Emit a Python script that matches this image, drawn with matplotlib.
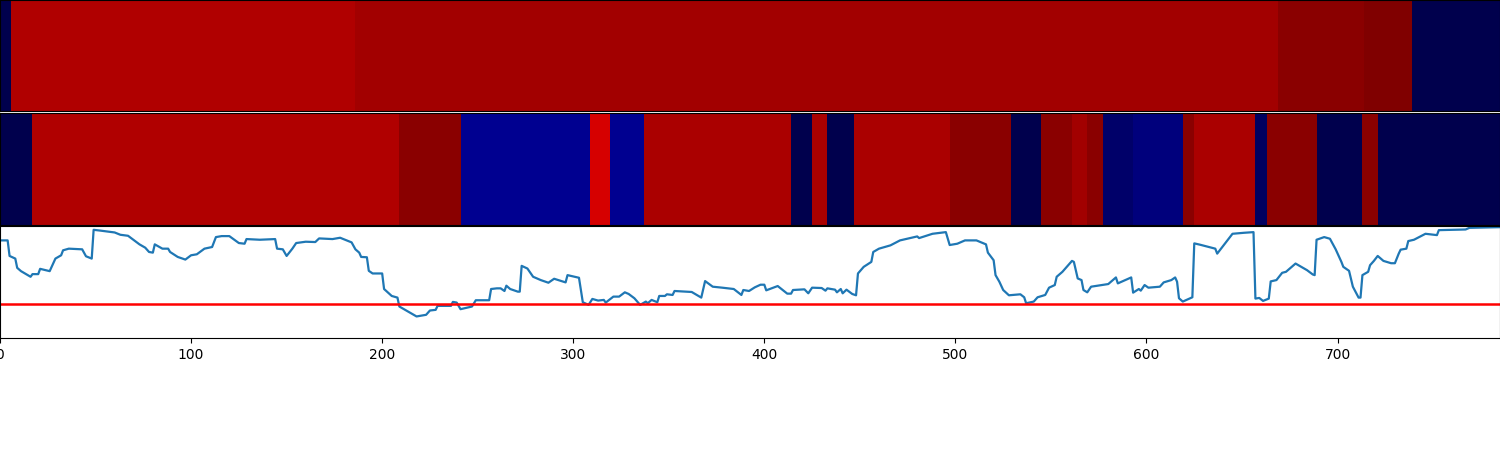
import numpy as np
import matplotlib
matplotlib.use('Agg')
import matplotlib.pyplot as pp

#%% data

x_max = 785

# state intensity per segment, top band
edges_top = [0, 6, 186, 669, 714, 739, 785]
vals_top = [0.0, 0.905, 0.93, 0.98, 1.0, 0.0]

# middle band
edges_mid = [0, 17, 209, 241, 309, 319, 337, 414, 425, 433, 447, 497, 529, 545, 561,
             569, 577, 593, 619, 625, 657, 663, 689, 713, 721, 785]
vals_mid = [0.0, 0.905, 0.98, 0.096, 0.83, 0.096, 0.915, 0.0, 0.915, 0.0, 0.915, 0.98, 0.0, 0.98,
            0.93, 0.98, 0.04, 0.07, 0.98, 0.915, 0.03, 0.98, 0.0, 0.98, 0.0]

threshold = 103

time = [0, 4, 5, 8, 9, 11, 16, 17, 20, 21, 26, 29, 32, 33, 36, 43, 45, 48, 49, 52, 60, 63, 67,
        73, 76, 78, 80, 81, 85, 88, 89, 93, 97, 100, 103, 107, 111, 113, 116, 120, 125, 128, 129,
        136, 144, 145, 148, 150, 153, 155, 160, 165, 167, 174, 178, 184, 186, 188, 189, 192, 193,
        195, 200, 201, 205, 208, 209, 218, 223, 225, 228, 229, 236, 237, 239, 241, 247, 249, 256,
        257, 260,
        262, 264, 265, 267, 271, 272, 273, 276, 279, 283, 287, 290, 296, 297, 303, 305, 308, 310,
        313, 316, 317, 321, 324, 327, 329, 332, 335, 338, 339, 341, 344, 345, 348, 349, 352, 353,
        362, 367, 369, 373, 378, 384, 388, 389, 392, 395, 398, 400, 401, 407, 412, 414, 415, 421,
        423, 425, 430, 432, 433, 437, 438, 440, 441, 443, 446, 448, 449, 452, 456, 457, 460, 466,
        471, 480, 481, 488, 495, 497, 501, 505, 511, 516, 517, 520, 521, 523,
        525, 528, 534, 536, 537, 541, 543, 547, 549, 552, 553, 556, 561, 562, 564, 566, 567, 569,
        571, 580, 584, 585, 592, 593, 596, 597, 599, 601, 607, 609, 613, 615, 616, 617, 619, 624,
        625, 628, 636, 637, 639, 645, 651, 656, 657, 659, 661, 664, 665, 668, 671, 673, 678, 684,
        687, 688, 689, 693, 696, 699, 702, 703, 706, 708, 711, 712, 713, 716, 717, 719, 721, 724,
        728, 730, 732, 733, 736, 737, 740, 746, 752, 753, 767, 769, 785]

score = [295, 295, 248, 240, 212, 202, 185, 193, 193, 209, 202, 240, 250, 265, 270, 268, 247, 240,
         327, 325, 319, 312, 309, 283, 273, 260, 258, 283, 270, 270, 260, 245, 237, 250, 253, 270,
         275, 305, 308, 308, 287, 285, 299, 297, 299, 270, 268, 248, 270, 287, 291, 290, 301, 299,
         303, 289, 268, 258, 245, 244, 203, 195, 195, 148, 127, 122, 95, 65, 70, 83, 85, 97, 97,
         109, 107, 87, 95, 114, 114, 148, 150,
         150, 142, 158, 148, 140, 140, 218, 210, 185, 175, 167, 179, 168, 190, 182, 108, 100, 118,
         113, 115, 107, 125, 125, 138, 133, 120, 100, 110, 105, 115, 108, 127, 127, 132, 130, 142,
         139, 122, 172, 155, 152, 148, 130, 145, 142, 153, 161, 161, 144, 157, 134, 134, 145, 147,
         135, 152, 151, 143, 150, 146, 138, 148, 135, 146, 133, 129, 195, 215, 230, 260, 270, 280,
         295, 307, 302, 315, 320, 281, 285, 295, 295, 283, 258, 235, 190, 170,
         145, 129, 132, 123, 105, 110, 123, 130, 152, 160, 185, 200, 233, 230, 180, 175, 145, 138,
         155, 163, 183, 165, 183, 137, 148, 143, 160, 152, 155, 168, 175, 183, 170, 120, 110, 123,
         286, 282, 270, 255, 270, 315, 318, 320, 119, 121, 112, 119, 171, 175, 197, 200, 225, 205,
         192, 190, 297, 305, 300, 268, 230, 215, 203, 155, 122, 122, 190, 200, 220, 233, 248, 233,
         226, 226, 255, 267, 270, 293, 297, 315, 311, 326, 328, 333, 335]

#%% plot

fig, axs = pp.subplots(3, 1, figsize=(15, 4.5), sharex=True,
                       gridspec_kw={'height_ratios': [1, 1.005, 1.005]})
fig.subplots_adjust(left=0, right=1, bottom=0.249, top=1, hspace=0.0143)

for ax, edges, vals in zip(axs[:2], [edges_top, edges_mid], [vals_top, vals_mid]):
    ax.pcolormesh(edges, [0, 1], np.array([vals]), cmap='seismic', vmin=0, vmax=1)
    ax.set_yticks([])
    ax.tick_params(axis='x', length=0, labelbottom=False)

ax3 = axs[2]
ax3.plot(time, score, lw=1.6)
ax3.axhline(threshold, color='r', lw=1.8)
ax3.set_ylim(0, 338)
ax3.set_yticks([])
ax3.set_xlim(0, x_max)
ax3.set_xticks(range(0, 701, 100))

fig.savefig('out.png', dpi=100)
